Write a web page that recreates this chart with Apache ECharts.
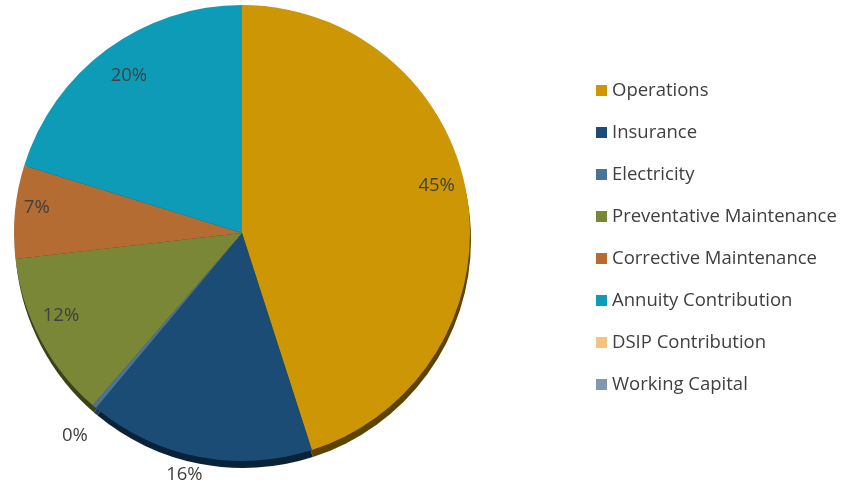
<!DOCTYPE html>
<html>
<head>
<meta charset="utf-8">
<script src="https://cdn.jsdelivr.net/npm/echarts@6/dist/echarts.min.js"></script>
<style>
html, body { margin: 0; padding: 0; background: #fff; }
#chart { width: 843px; height: 490px; }
</style>
</head>
<body>
<div id="chart"></div>
<script>
var categories = ['Operations', 'Insurance', 'Electricity', 'Preventative Maintenance',
    'Corrective Maintenance', 'Annuity Contribution', 'DSIP Contribution', 'Working Capital'];
var values = [45, 16, 0.3, 11.8, 6.6, 20.2, 0, 0];
var colors = ['#CC9604', '#1B4C75', '#4A739C', '#7A8737', '#B46C33', '#0E9BB7', '#F2C47E', '#8397B0'];
var darkColors = ['#5C4400', '#0A2238', '#223650', '#3A4218', '#5A3418', '#064C5A', '#7A6240', '#404A58'];
// labels that sit outside the pie
var outsideLabels = ['Insurance', 'Electricity'];
// small nudges so labels sit where the tilted original put them
var labelNudge = {
    'Operations': [-2, -16],
    'Insurance': [19, 8],
    'Electricity': [13, 21],
    'Preventative Maintenance': [-5, -10],
    'Corrective Maintenance': [-7, -7],
    'Annuity Contribution': [5, 3]
};

var chart = echarts.init(document.getElementById('chart'));

function makeData(cols, withLabel) {
    return categories.map(function (name, i) {
        var d = {name: name, value: values[i], itemStyle: {color: cols ? cols[i] : 'transparent'}};
        if (withLabel) {
            if (values[i] === 0) {
                d.label = {show: false};
            } else {
                d.label = {offset: labelNudge[name] || [0, 0]};
                if (outsideLabels.indexOf(name) >= 0) {
                    d.label.position = 'outside';
                }
            }
        }
        return d;
    });
}

var center = [242, 233];
var r = 228;

option = {
    animation: false,
    legend: {
        orient: 'vertical',
        left: 596,
        top: 81,
        padding: 0,
        itemWidth: 11,
        itemHeight: 11,
        itemGap: 23,
        icon: 'rect',
        textStyle: {
            fontFamily: 'Open Sans',
            fontSize: 18.5,
            color: '#404040'
        },
        data: categories
    },
    series: [
        {
            type: 'pie',
            name: 'main',
            center: center,
            radius: r,
            startAngle: 90,
            clockwise: true,
            label: {show: false},
            labelLine: {show: false},
            data: makeData(colors, false),
            z: 2
        },
        {
            // depth of the tilted pie
            type: 'pie',
            silent: true,
            center: [center[0] + 1, center[1] + 7],
            radius: r,
            startAngle: 90,
            clockwise: true,
            label: {show: false},
            labelLine: {show: false},
            legendHoverLink: false,
            data: makeData(darkColors, false),
            z: 1
        },
        {
            // transparent ring that carries the labels
            type: 'pie',
            silent: true,
            center: center,
            radius: [r * 0.72, r],
            startAngle: 90,
            clockwise: true,
            emphasis: {disabled: true},
            label: {
                show: true,
                position: 'inside',
                fontFamily: 'Open Sans',
                fontSize: 18.5,
                color: '#404040',
                formatter: function (p) {
                    return Math.round(p.percent) + '%';
                }
            },
            labelLine: {show: false, length: 10, length2: 8},
            avoidLabelOverlap: false,
            data: makeData(null, true),
            z: 3
        }
    ]
};

chart.setOption(option);
</script>
</body>
</html>
